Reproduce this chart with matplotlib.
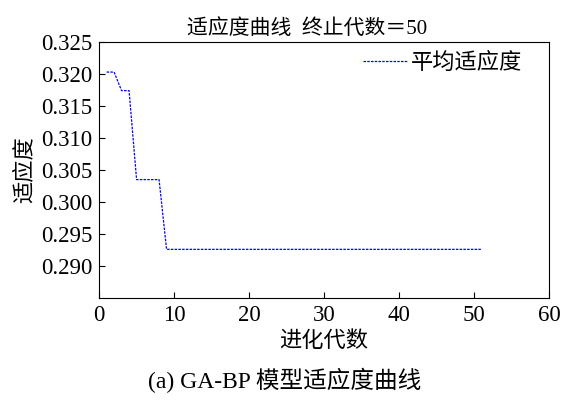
import matplotlib.pyplot as plt

plt.rcParams['font.family'] = ['Liberation Serif', 'Noto Sans CJK SC']

# generation numbers and mean fitness
generations = list(range(1, 52))
mean_fitness = [0.3203, 0.3203, 0.3174, 0.3174, 0.3035, 0.3035, 0.3035, 0.3035] + [0.2926] * 43

fig = plt.figure(figsize=(5.63, 4.0), dpi=100)
ax = fig.add_axes([0.176, 0.255, 0.799, 0.64])

ax.plot(generations, mean_fitness, color='blue', linestyle=(0, (2, 1)), linewidth=0.9, label='平均适应度')

ax.set_xlim(0, 60)
ax.set_ylim(0.285, 0.325)
ax.set_xticks([0, 10, 20, 30, 40, 50, 60])
ax.set_yticks([0.290, 0.295, 0.300, 0.305, 0.310, 0.315, 0.320, 0.325])
ax.set_yticklabels(['%.3f' % v for v in ax.get_yticks()])
ax.tick_params(direction='in', labelsize=16.5, length=4, pad=5)

ax.set_xlabel('进化代数', fontsize=16, labelpad=4)
ax.set_ylabel('适应度', fontsize=16, labelpad=4)
fig.text(0.545, 0.915, '适应度曲线  终止代数＝50', ha='center', fontsize=15)

leg = ax.legend(loc='upper right', frameon=False, fontsize=16, handlelength=2.0,
                handletextpad=0.15, borderaxespad=0.1, bbox_to_anchor=(0.965, 1.0))

fig.text(0.505, 0.03, '(a) GA-BP 模型适应度曲线', ha='center', fontsize=17)

fig.savefig('out.png', dpi=100)
